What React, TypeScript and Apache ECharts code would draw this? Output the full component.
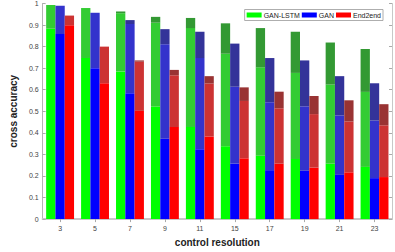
import React, { useEffect, useRef } from "react";
import * as echarts from "echarts";

const categories = ["3", "5", "7", "9", "11", "15", "17", "19", "21", "23"];
const seriesNames = ["GAN-LSTM", "GAN", "End2end"];

const ganLstmLow = [0.883, 0.747, 0.685, 0.522, 0.427, 0.338, 0.294, 0.279, 0.257, 0.242];
const ganLstmMid = [0.993, 0.979, 0.955, 0.911, 0.886, 0.767, 0.704, 0.678, 0.624, 0.59];
const ganLstmHigh = [0.993, 0.979, 0.963, 0.938, 0.933, 0.908, 0.886, 0.869, 0.819, 0.789];

const ganLow = [0.859, 0.7, 0.584, 0.373, 0.324, 0.257, 0.227, 0.224, 0.205, 0.19];
const ganMid = [0.99, 0.957, 0.905, 0.811, 0.747, 0.614, 0.542, 0.523, 0.481, 0.457];
const ganHigh = [0.99, 0.957, 0.923, 0.881, 0.869, 0.814, 0.747, 0.736, 0.663, 0.63];

const e2eLow = [0.899, 0.63, 0.502, 0.427, 0.383, 0.282, 0.257, 0.239, 0.217, 0.195];
const e2eMid = [0.944, 0.8, 0.73, 0.667, 0.629, 0.548, 0.514, 0.487, 0.453, 0.435];
const e2eHigh = [0.944, 0.8, 0.736, 0.692, 0.663, 0.611, 0.591, 0.571, 0.551, 0.533];

const yTicks = [0, 0.1, 0.2, 0.3, 0.4, 0.5, 0.6, 0.7, 0.8, 0.9, 1];

const palettes = [
  ["#00ff00", "#33cc33", "#339933"],
  ["#0000ff", "#3333cc", "#333399"],
  ["#ff0000", "#cc3333", "#993333"],
];

const groups = [
  [ganLstmLow, ganLstmMid, ganLstmHigh],
  [ganLow, ganMid, ganHigh],
  [e2eLow, e2eMid, e2eHigh],
];

const FONT = "Liberation Sans";

export default function App() {
  const ref = useRef<HTMLDivElement>(null);
  useEffect(() => {
    if (!ref.current) return;
    const chart = echarts.init(ref.current, null, { renderer: "svg" });
    const series: any[] = [];
    groups.forEach((g, gi) => {
      const [low, mid, high] = g;
      const segs = [
        low,
        mid.map((v, i) => Math.max(0, v - low[i])),
        high.map((v, i) => Math.max(0, v - mid[i])),
      ];
      segs.forEach((data, si) => {
        series.push({
          type: "bar",
          name: si === 0 ? seriesNames[gi] : seriesNames[gi] + "-" + si,
          stack: "s" + gi,
          data,
          barWidth: 9.3,
          barGap: "0%",
          itemStyle: { color: palettes[gi][si] },
          emphasis: { disabled: true },
        });
      });
    });
    chart.setOption({
      animation: false,
      backgroundColor: "#ffffff",
      textStyle: { fontFamily: FONT },
      grid: { left: 25.3, right: 3, top: 2.7, bottom: 24.3, containLabel: false },
      legend: {
        data: seriesNames,
        right: 12,
        top: 9.5,
        orient: "horizontal",
        itemWidth: 15,
        itemHeight: 5,
        itemGap: 2,
        padding: [2, 2, 2, 2],
        borderColor: "#999",
        borderWidth: 0.8,
        backgroundColor: "#fff",
        icon: "rect",
        textStyle: { fontSize: 7, color: "#222", fontFamily: FONT, padding: [0, 0, 0, -3] },
        selectedMode: false,
      },
      xAxis: [
        {
          type: "category",
          data: categories,
          position: "bottom",
          name: "control resolution",
          nameLocation: "middle",
          nameGap: 17,
          nameTextStyle: { fontSize: 10, fontWeight: "bold", color: "#222", fontFamily: FONT },
          axisLine: { lineStyle: { color: "#c8c8c8", width: 2 } },
          axisTick: { show: true, inside: true, alignWithLabel: true, length: 3, lineStyle: { color: "#aaa" } },
          axisLabel: { fontSize: 7, color: "#444", margin: 6 },
        },
        {
          type: "category",
          data: categories,
          position: "top",
          axisLine: { lineStyle: { color: "#c8c8c8", width: 1 } },
          axisTick: { show: true, inside: true, alignWithLabel: true, length: 3, lineStyle: { color: "#aaa" } },
          axisLabel: { show: false },
        },
      ],
      yAxis: [
        {
          type: "value",
          min: 0,
          max: 1,
          interval: 0.1,
          name: "cross accuracy",
          nameLocation: "middle",
          nameGap: 17,
          nameTextStyle: { fontSize: 10, fontWeight: "bold", color: "#222", fontFamily: FONT },
          axisLine: { show: true, lineStyle: { color: "#b4b4b4", width: 1 } },
          axisTick: { show: true, inside: true, length: 3, lineStyle: { color: "#aaa" } },
          axisLabel: {
            fontSize: 7,
            color: "#444",
            margin: 4,
            formatter: (v: number) => {
              const t = yTicks.find((x) => Math.abs(x - v) < 1e-6);
              return t === undefined ? "" : String(+t.toFixed(1));
            },
          },
          splitLine: { show: false },
        },
        {
          type: "value",
          min: 0,
          max: 1,
          interval: 0.1,
          position: "right",
          axisLine: { show: true, lineStyle: { color: "#c8c8c8", width: 1 } },
          axisTick: { show: true, inside: true, length: 3, lineStyle: { color: "#aaa" } },
          axisLabel: { show: false },
          splitLine: { show: false },
        },
      ],
      series,
    });
    return () => chart.dispose();
  }, []);
  return <div ref={ref} style={{ width: 395, height: 252, position: "absolute", left: 0, top: 0 }} />;
}
